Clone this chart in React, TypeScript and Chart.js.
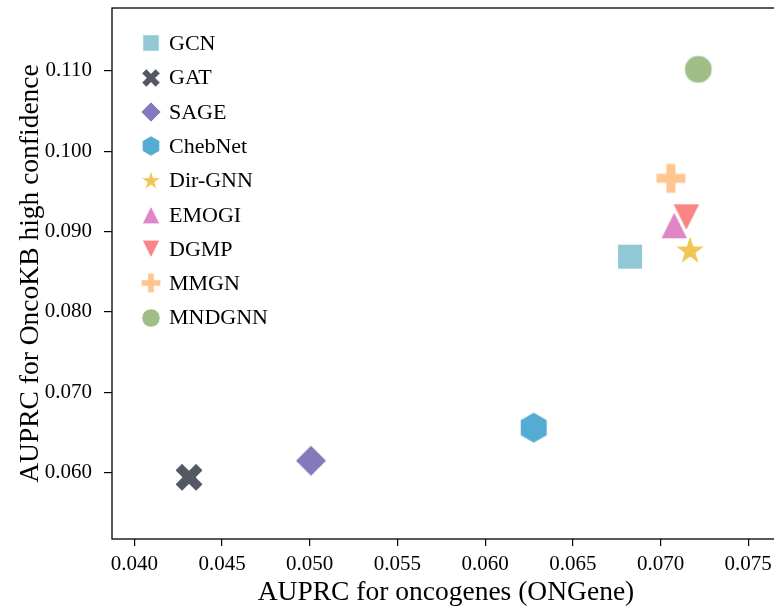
import React, { useEffect, useRef } from 'react';
import { Chart, registerables } from 'chart.js';

Chart.register(...registerables);

const methods = ['GCN', 'GAT', 'SAGE', 'ChebNet', 'Dir-GNN', 'EMOGI', 'DGMP', 'MMGN', 'MNDGNN'];
const onGeneAUPRC = [0.06826, 0.04312, 0.05007, 0.06277, 0.07168, 0.07078, 0.07147, 0.07059, 0.07215];
const oncoKBAUPRC = [0.08687, 0.05943, 0.06149, 0.0656, 0.08757, 0.09077, 0.09177, 0.09662, 0.11017];
const colors = ['#90c8d6', '#545864', '#8479bb', '#55acd2', '#f0c654', '#e086c6', '#fa8585', '#ffc692', '#9fbd86'];
const shapes = ['square', 'x', 'diamond', 'hexagon', 'star', 'triangle', 'triangleDown', 'plus', 'circle'];
const xTicks = [0.04, 0.045, 0.05, 0.055, 0.06, 0.065, 0.07, 0.075];
const yTicks = [0.06, 0.07, 0.08, 0.09, 0.1, 0.11];

const FONT = '"Liberation Serif", "Times New Roman", serif';

function tracePath(ctx: CanvasRenderingContext2D, shape: string, k: number) {
  ctx.beginPath();
  const poly = (pts: number[][]) => {
    pts.forEach((p, i) => (i === 0 ? ctx.moveTo(p[0], p[1]) : ctx.lineTo(p[0], p[1])));
    ctx.closePath();
  };
  const plusPts = (b: number) => {
    const a = b / 3;
    return [[-a, -b], [a, -b], [a, -a], [b, -a], [b, a], [a, a], [a, b], [-a, b], [-a, a], [-b, a], [-b, -a], [-a, -a]];
  };
  switch (shape) {
    case 'circle':
      ctx.arc(0, 0, 14 * k, 0, Math.PI * 2);
      break;
    case 'square':
      ctx.rect(-12.5 * k, -12.5 * k, 25 * k, 25 * k);
      break;
    case 'diamond': {
      const d = 15.5 * k;
      poly([[0, -d], [d, 0], [0, d], [-d, 0]]);
      break;
    }
    case 'hexagon': {
      const r = 15.5 * k;
      const pts = [];
      for (let i = 0; i < 6; i++) {
        const a = (-90 + 60 * i) * Math.PI / 180;
        pts.push([r * Math.cos(a), r * Math.sin(a)]);
      }
      poly(pts);
      break;
    }
    case 'star': {
      const R = 16 * k;
      const pts = [];
      for (let i = 0; i < 10; i++) {
        const a = (-90 + 36 * i) * Math.PI / 180;
        const r = i % 2 ? R * 0.382 : R;
        pts.push([r * Math.cos(a), r * Math.sin(a)]);
      }
      poly(pts);
      break;
    }
    case 'triangle': {
      const h = 13.5 * k;
      poly([[0, -h], [h, h], [-h, h]]);
      break;
    }
    case 'triangleDown': {
      const h = 13.5 * k;
      poly([[0, h], [h, -h], [-h, -h]]);
      break;
    }
    case 'plus':
      poly(plusPts(15 * k));
      break;
    case 'x': {
      const pts = plusPts(14.85 * k).map(([x, y]) => {
        const c = Math.SQRT1_2;
        return [x * c - y * c, x * c + y * c];
      });
      poly(pts);
      break;
    }
  }
}

function makeMarker(shape: string, color: string, k: number, size: number) {
  const c = document.createElement('canvas');
  c.width = size;
  c.height = size;
  const ctx = c.getContext('2d')!;
  ctx.translate(size / 2, size / 2);
  tracePath(ctx, shape, k);
  ctx.fillStyle = color;
  ctx.fill();
  ctx.lineWidth = 1;
  ctx.strokeStyle = '#ffffff';
  ctx.lineJoin = 'miter';
  ctx.stroke();
  return c;
}

const legendPlugin = {
  id: 'customLegend',
  afterDatasetsDraw(chart: any) {
    const { ctx, chartArea } = chart;
    ctx.save();
    ctx.font = `22px ${FONT}`;
    ctx.textBaseline = 'middle';
    ctx.textAlign = 'left';
    ctx.fillStyle = '#000';
    chart.data.datasets.forEach((ds: any, i: number) => {
      const y = chartArea.top + 35.3 + i * 34.3;
      const x = chartArea.left + 39.4;
      const icon = ds.legendIcon as HTMLCanvasElement;
      ctx.drawImage(icon, Math.round(x - icon.width / 2), Math.round(y - icon.height / 2));
      ctx.fillText(ds.label, x + 17.6, y + 1);
    });
    ctx.restore();
  },
};

const framePlugin = {
  id: 'frame',
  afterDraw(chart: any) {
    const { ctx, chartArea } = chart;
    ctx.save();
    ctx.strokeStyle = '#000';
    ctx.lineWidth = 1.3;
    ctx.strokeRect(chartArea.left, chartArea.top, chartArea.right - chartArea.left, chartArea.bottom - chartArea.top);
    ctx.restore();
  },
};

const zeroPad = (s: any) => {
  s.paddingTop = 0;
  s.paddingBottom = 0;
  s.paddingLeft = 0;
  s.paddingRight = 0;
};

export default function App() {
  const ref = useRef<HTMLCanvasElement>(null);

  useEffect(() => {
    if (!ref.current) return;
    const datasets = methods.map((m, i) => ({
      label: m,
      data: [{ x: onGeneAUPRC[i], y: oncoKBAUPRC[i] }],
      pointStyle: makeMarker(shapes[i], colors[i], 1, 44),
      legendIcon: makeMarker(shapes[i], colors[i], 0.66, 28),
      pointRadius: 14,
      order: -i,
    }));
    const chart = new Chart(ref.current, {
      type: 'scatter',
      data: { datasets: datasets as any },
      plugins: [legendPlugin, framePlugin],
      options: {
        responsive: false,
        animation: false,
        devicePixelRatio: 1,
        layout: { autoPadding: false, padding: { top: 8, right: 2, left: 0, bottom: 0 } },
        plugins: { legend: { display: false }, tooltip: { enabled: false } },
        scales: {
          x: {
            type: 'linear',
            min: 0.038729,
            max: 0.07681,
            afterFit: (s: any) => { s.height = 69; zeroPad(s); },
            afterBuildTicks: (s: any) => { s.ticks = xTicks.map((v) => ({ value: v })); },
            ticks: {
              callback: (v: any) => Number(v).toFixed(3),
              font: { size: 21, family: FONT },
              color: '#000',
              padding: 6,
              maxRotation: 0,
              autoSkip: false,
            },
            grid: { drawOnChartArea: false, drawTicks: true, tickLength: 7, color: '#000', lineWidth: 1.2 },
            border: { display: false },
            title: {
              display: true,
              text: 'AUPRC for oncogenes (ONGene)',
              font: { size: 27.5, family: FONT, lineHeight: 1 },
              color: '#000',
              padding: { top: 0, bottom: 1 },
            },
          },
          y: {
            type: 'linear',
            min: 0.05175,
            max: 0.1178,
            afterFit: (s: any) => { s.width = 112; zeroPad(s); },
            afterBuildTicks: (s: any) => { s.ticks = yTicks.map((v) => ({ value: v })); },
            ticks: {
              callback: (v: any) => Number(v).toFixed(3),
              font: { size: 21, family: FONT },
              color: '#000',
              padding: 12,
              autoSkip: false,
            },
            grid: { drawOnChartArea: false, drawTicks: true, tickLength: 8, color: '#000', lineWidth: 1.2 },
            border: { display: false },
            title: {
              display: true,
              text: 'AUPRC for OncoKB high confidence',
              font: { size: 27.5, family: FONT, lineHeight: 1 },
              color: '#000',
              padding: { top: 17, bottom: 0 },
            },
          },
        },
      } as any,
    });
    return () => chart.destroy();
  }, []);

  return (
    <div style={{ position: 'absolute', left: 0, top: 0, width: 774, height: 608, overflow: 'hidden', background: '#fff' }}>
      <canvas ref={ref} width={782} height={608} style={{ display: 'block', width: 782, height: 608 }} />
    </div>
  );
}
